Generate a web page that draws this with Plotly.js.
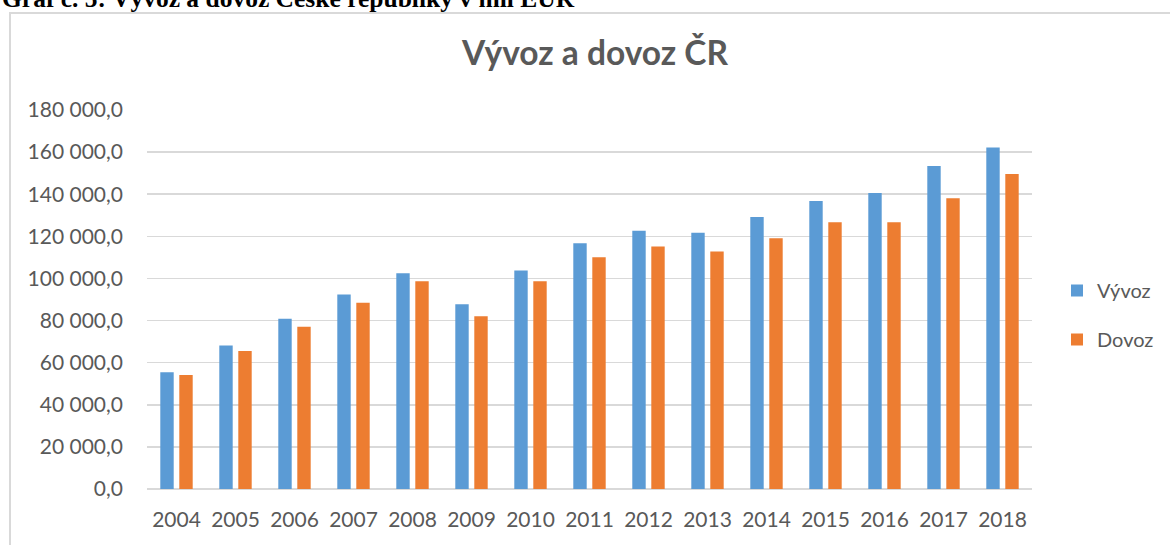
<!DOCTYPE html>
<html>
<head>
<meta charset="utf-8">
<script src="https://cdn.plot.ly/plotly-3.0.1.min.js"></script>
<style>
html,body{margin:0;padding:0;background:#fff;overflow:hidden;}
#frame{position:absolute;left:9px;top:12px;width:1300px;height:700px;border:2px solid #d9d9d9;box-sizing:border-box;}
#chart{position:absolute;left:0;top:0;width:1170px;height:545px;}
</style>
</head>
<body>
<div id="frame"></div>
<div id="chart"></div>
<script>
var years = ['2004','2005','2006','2007','2008','2009','2010','2011','2012','2013','2014','2015','2016','2017','2018'];
var vyvoz = [55400, 68100, 80900, 92400, 102500, 87800, 103800, 116700, 122700, 121700, 129200, 136800, 140600, 153400, 162200];
var dovoz = [54100, 65600, 77100, 88500, 98700, 82100, 98700, 110100, 115200, 112800, 119100, 126700, 126700, 138100, 149600];
var yTickVals = [0, 20000, 40000, 60000, 80000, 100000, 120000, 140000, 160000, 180000];
var yTickText = ['0,0', '20 000,0', '40 000,0', '60 000,0', '80 000,0', '100 000,0', '120 000,0', '140 000,0', '160 000,0', '180 000,0'];

var grey = '#595959';
var fontFam = 'Lato, "Open Sans", sans-serif';

var traces = [
  {type:'bar', name:'Vývoz', x:years, y:vyvoz, marker:{color:'#5b9bd5'}, legendgroup:'a', hoverinfo:'x+y'},
  {type:'bar', name:'Dovoz', x:years, y:dovoz, marker:{color:'#ed7d31'}, legendgroup:'b', hoverinfo:'x+y'}
];

var layout = {
  width:1170, height:545,
  paper_bgcolor:'rgba(0,0,0,0)', plot_bgcolor:'rgba(0,0,0,0)',
  margin:{l:147, r:137, t:110, b:56, pad:0},
  font:{family:fontFam, color:grey, size:21},
  barmode:'group', bargap:0.356, bargroupgap:0.295,
  title:{text:'<b>Vývoz a dovoz ČR</b>', font:{family:fontFam, size:33.5, color:grey}, xref:'container', x:595/1170, xanchor:'center', yref:'container', y:1-53/545, yanchor:'middle'},
  xaxis:{type:'category', showgrid:false, showline:false, zeroline:false, ticks:'', tickfont:{size:21, color:grey}, ticklabelstandoff:16, fixedrange:true},
  yaxis:{range:[0,180000], tickvals:yTickVals, ticktext:yTickText, showgrid:true, gridcolor:'#d9d9d9', gridwidth:1.5, zeroline:true, zerolinecolor:'#d9d9d9', zerolinewidth:2, showline:false, ticks:'', tickfont:{size:21, color:grey}, ticklabelstandoff:23, fixedrange:true},
  legend:{x:(1057-147)/886, xanchor:'left', xref:'paper', y:(489-315)/379, yanchor:'middle', font:{size:20, color:grey}, tracegroupgap:20, bgcolor:'rgba(0,0,0,0)', itemwidth:30},
  annotations:[
    {text:'<b>Graf č. 5: Vývoz a dovoz České republiky v mil EUR</b>', xref:'paper', yref:'paper', x:(0-147)/886, xanchor:'left', y:(489-15)/379, yanchor:'bottom', showarrow:false, font:{family:'"Liberation Serif", "Times New Roman", serif', size:25.5, color:'#000'}}
  ],
  showlegend:true
};

Plotly.newPlot('chart', traces, layout, {displayModeBar:false, staticPlot:true});
</script>
</body>
</html>
